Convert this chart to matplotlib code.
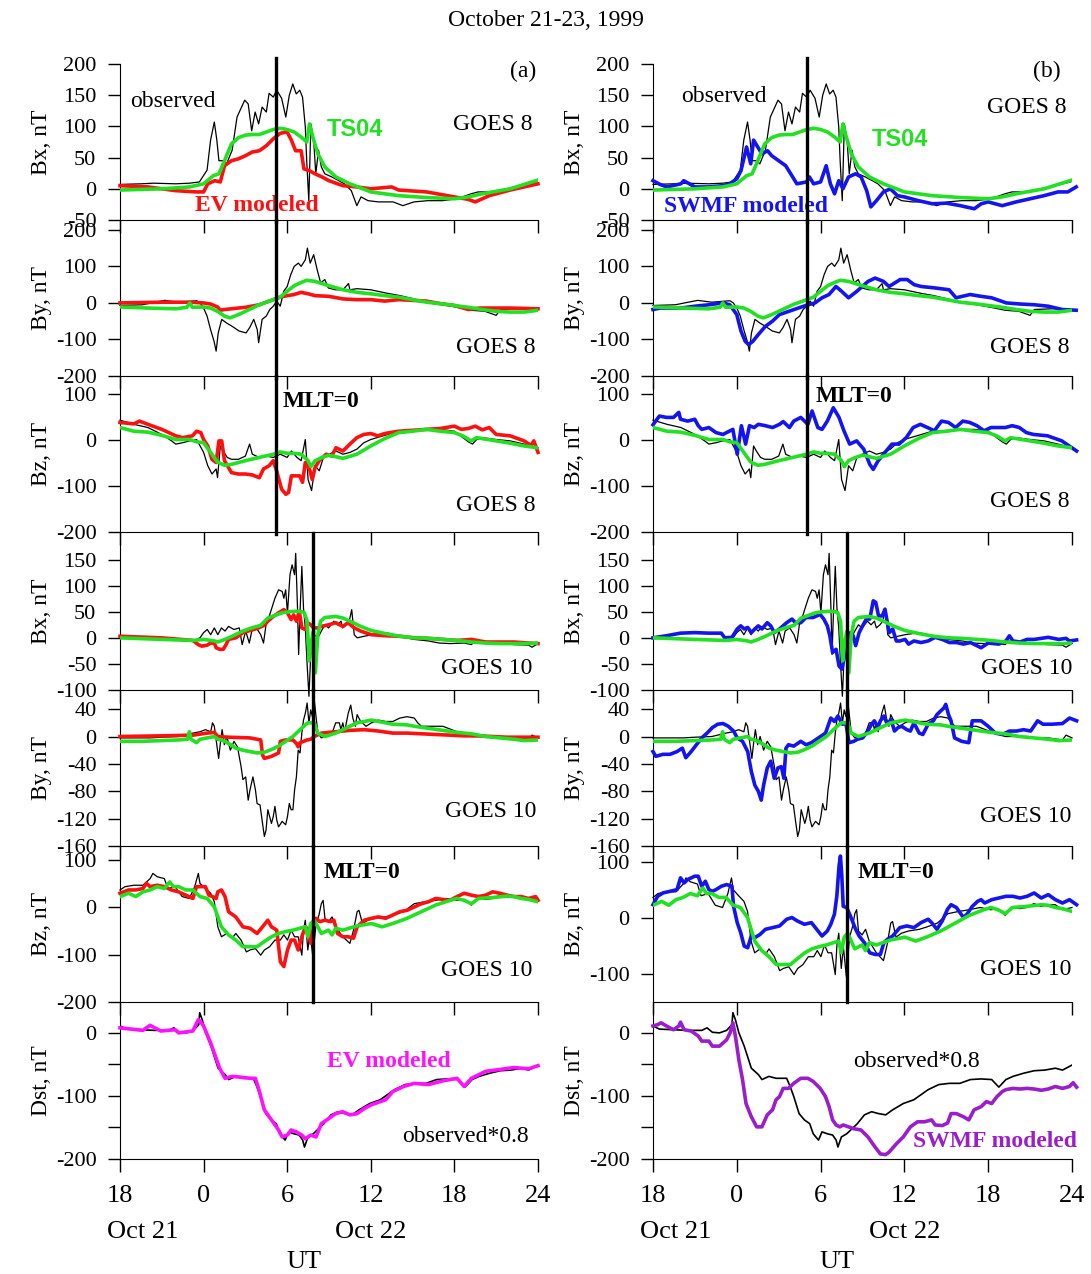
import numpy as np
import matplotlib
matplotlib.use('Agg')
import matplotlib.pyplot as plt

plt.rcParams['font.family'] = 'Liberation Serif'
plt.rcParams['axes.unicode_minus'] = False

# time in hours from 00 UT Oct 22 (-6 = 18 UT Oct 21, 24 = 00 UT Oct 23)
hour_ticks = [-6, 0, 6, 12, 18, 24]
hour_labels = ['18', '0', '6', '12', '18', '24']

# ---------------- GOES 8 Bx ----------------
bx8_obs_t = [-6, -4.5, -3.6, -2, -1, -0.3, 0.25, 0.5, 0.77, 0.95, 1.1, 1.4, 1.65, 2.05, 2.4, 2.95, 3.2, 3.45, 3.7, 3.95,
             4.2, 4.5, 4.7, 5.0, 5.25, 5.6, 5.9, 6.15, 6.4, 6.65, 6.9, 7.1, 7.3, 7.4, 7.55, 7.7, 7.9, 8.05, 8.25, 8.45,
             8.7, 9.2, 9.7, 10.1, 10.6, 11.0, 11.3, 11.8, 12.55, 13.6, 14.3, 15.1, 16.1, 17.15, 18.2, 19.2, 19.7, 20.7,
             21.8, 22.8, 23.9]
bx8_obs_v = [7, 8, 9, 8, 9, 11, 30, 78, 107, 78, 45, 45, 40, 62, 115, 142, 136, 93, 123, 104,
             131, 123, 153, 147, 158, 145, 115, 150, 168, 152, 158, 147, 99, 45, -19, 104, 78, 24, 62, 35,
             24, 19, 13, 8, -3, -27, -13, -19, -21, -21, -27, -21, -19, -19, -16, -8, -5, -5,
             0, 5, 11]
bx8_ts_t = [-6, -3, -1, 0, 0.7, 1.1, 1.5, 2, 2.5, 3, 3.5, 4, 4.5, 5, 5.5, 6, 6.5, 7, 7.4, 7.6,
            7.8, 8.2, 8.7, 9.5, 10.5, 12, 14, 16, 18, 19, 20, 22, 24]
bx8_ts_v = [-2, 0, 3, 8, 21, 24, 45, 72, 82, 86, 87, 87, 91, 95, 97, 95, 91, 83, 75, 104,
            86, 56, 35, 19, 8, -5, -11, -14, -16, -13, -8, 0, 14]
bx8_ev_t = [-6, -4, -2, -0.5, 0, 0.3, 0.8, 1.2, 1.5, 2, 2.5, 3, 3.5, 4, 4.5, 5, 5.5, 6, 6.3, 6.6,
            7, 7.2, 7.6, 8, 8.5, 9, 10, 11, 12, 13.5, 14, 16, 18, 19, 19.5, 20.5, 22, 24]
bx8_ev_v = [5, 3, -3, -5, -5, 8, 13, 11, 37, 45, 48, 53, 59, 61, 69, 80, 89, 91, 78, 61,
            61, 32, 29, 24, 19, 13, 5, 3, 0, 3, -2, -5, -13, -17, -21, -11, -2, 8]
bx8_sw_t = [-6, -5.5, -5, -4, -3.8, -3, -2, -1, -0.5, 0, 0.3, 0.7, 1.0, 1.2, 1.5, 1.8, 2.2, 2.5, 3.0, 3.5,
            4, 4.3, 5, 5.2, 5.5, 6, 6.4, 6.7, 7, 7.3, 7.6, 8, 8.5, 8.9, 9.3, 9.6, 10, 10.5, 11, 11.5,
            12, 13, 14, 15, 16, 17, 17.5, 18, 19, 20, 21, 22, 23, 23.7, 24.3]
bx8_sw_v = [13, 7, 3, 8, 13, 3, 3, 5, 8, 16, 29, 67, 40, 78, 67, 56, 61, 53, 45, 37,
            19, 8, 11, 19, 8, 11, 37, 8, -8, 13, 0, 19, 24, 19, -3, -29, -19, -5, 0, -11,
            -13, -19, -24, -23, -27, -32, -24, -21, -27, -21, -16, -11, -5, -5, 3]

# ---------------- GOES 8 By ----------------
by8_obs_t = [-6, -4.4, -2.8, -1.8, -0.5, -0.25, 0, 0.25, 0.5, 0.75, 0.9, 1.05, 1.3, 1.65, 2.05, 2.55, 3.05, 3.3, 3.6, 3.85,
             3.95, 4.2, 4.5, 4.75, 5.0, 5.25, 5.5, 5.75, 6.0, 6.25, 6.5, 6.8, 7.0, 7.3, 7.45, 7.65, 7.9, 8.15, 8.4, 8.7,
             8.95, 9.45, 10.0, 10.4, 10.5, 11.0, 12, 13.1, 14.1, 15.1, 16.1, 17.2, 18.2, 19.2, 20.2, 21.0, 21.3, 22.6, 23.9]
by8_obs_v = [-7, -5, 7, 2, 6, 0, -14, -36, -73, -105, -132, -82, -45, -55, -64, -77, -82, -68, -45, -73,
             -109, -45, -36, -18, -9, 5, -9, 32, 45, 77, 100, 109, 100, 118, 150, 109, 132, 91, 55, 64,
             41, 36, 36, 53, 36, 39, 36, 27, 20, 11, 0, -5, -12, -20, -23, -34, -18, -16, -16]
by8_ts_t = [-6, -4, -2, -1.2, -1.0, -0.8, 0, 0.5, 1, 1.5, 1.9, 2.5, 3, 3.5, 4, 5, 5.5, 6, 6.5, 7,
            7.4, 8, 9, 10, 11, 12, 13, 14, 15, 16, 17, 18, 19, 20, 21, 22, 23, 24]
by8_ts_v = [-11, -14, -16, -12, 0, -12, -11, -14, -23, -36, -41, -32, -23, -14, -5, 9, 16, 32, 47, 56,
            62, 59, 47, 36, 29, 25, 20, 16, 9, 2, -2, -7, -12, -18, -23, -25, -25, -20]
by8_ev_t = [-6, -3, -1, 0, 0.5, 1, 1.2, 1.5, 2, 3, 4, 5, 5.5, 6, 6.5, 7, 7.5, 8, 9, 10,
            11, 12, 13, 14, 15, 16, 17, 18, 19, 19.8, 20.5, 22, 24]
by8_ev_v = [0, 2, 2, 0, -3, -11, -20, -18, -16, -12, -5, 9, 16, 20, 23, 29, 25, 20, 18, 11,
            9, 9, 5, 9, 7, 5, -2, -7, -18, -14, -14, -14, -16]
by8_sw_t = [-6, -5.5, -4, -3, -2, -1, -0.5, 0, 0.3, 0.6, 0.85, 1.15, 1.55, 2.05, 2.55, 3.05, 4.1, 5.1, 5.6, 6.1,
            6.6, 7.1, 7.5, 8.0, 8.6, 9.4, 9.9, 10.5, 10.9, 11.7, 12.2, 12.7, 13.2, 14.2, 15.2, 15.7, 16.7, 17.5, 18.25, 19.3,
            20.3, 21.3, 22.3, 23.3, 24.3]
by8_sw_v = [-18, -14, -14, -9, -5, 0, -5, -32, -77, -105, -114, -105, -86, -64, -50, -32, -18, -5, 0, 14,
            23, 45, 32, 14, 32, 59, 68, 59, 45, 64, 64, 50, 45, 41, 36, 14, 23, 18, 14, 0,
            -3, -5, -9, -18, -20]

# ---------------- GOES 8 Bz ----------------
bz8_obs_t = [-6, -5, -4, -3, -2.3, -2, -1.5, -1, -0.5, 0, 0.3, 0.6, 0.9, 1.0, 1.2, 1.4, 1.7, 2, 2.5, 3,
             3.3, 3.5, 4, 4.5, 5, 5.5, 6, 6.3, 6.7, 7, 7.3, 7.5, 7.75, 8, 8.3, 8.6, 9, 9.5, 10, 10.5,
             11, 11.5, 12, 13, 14, 15, 16, 17, 18, 19, 19.3, 19.6, 20, 21, 22, 23, 24]
bz8_obs_v = [43, 34, 27, 12, -2, -9, -6, -2, 1, -27, -56, -74, -63, -82, -13, -24, -38, -42, -42, -35,
             -9, -31, -38, -35, -38, -31, -38, -24, -38, -45, 1, -86, -110, -56, -67, -38, -31, -24, -31, -27,
             -20, -6, 1, 10, 19, 19, 23, 23, 19, -4, -9, 1, 5, 1, -2, -9, -17]
bz8_ts_t = [-6, -5, -4, -3, -2, -1, -0.5, 0, 0.5, 1.0, 1.5, 2, 3, 4, 5, 5.5, 6, 6.5, 7, 7.5,
            7.7, 8, 8.5, 9, 10, 11, 12, 13, 14, 15, 16, 17, 18, 18.6, 19.2, 19.6, 20, 21, 22, 23, 24]
bz8_ts_v = [27, 19, 17, 10, 1, 1, -4, -6, -27, -48, -55, -53, -45, -38, -31, -26, -29, -29, -31, -45,
            -58, -45, -38, -33, -40, -31, -13, 3, 16, 19, 23, 19, 16, 9, -2, 5, 3, -2, -7, -13, -17]
bz8_ev_t = [-6, -5, -4.6, -4, -3, -2, -1.5, -0.8, -0.5, -0.2, 0, 0.3, 0.6, 0.9, 1.1, 1.3, 1.5, 2, 2.5, 3,
            3.5, 4, 4.3, 4.7, 5.0, 5.2, 5.6, 5.9, 6.1, 6.3, 6.6, 6.9, 7.1, 7.3, 7.6, 7.8, 8.0, 8.3, 8.8, 9.2,
            9.5, 10, 10.5, 11, 11.5, 12, 12.5, 13, 14, 15, 16, 17, 18, 18.5, 19, 19.5, 20, 20.5, 21, 22,
            23, 23.5, 23.7, 24]
bz8_ev_v = [38, 35, 41, 34, 23, 9, 5, 9, 19, 16, 1, -13, -42, -49, -2, -2, -45, -71, -74, -74,
            -76, -82, -63, -56, -45, -63, -107, -118, -114, -78, -78, -78, -92, -49, -63, -86, -60, -45, -31, -35,
            -17, -24, -9, 5, 12, 14, 9, 14, 19, 21, 23, 25, 30, 23, 25, 30, 22, 27, 12, 9,
            -2, -12, -2, -27]
bz8_sw_t = [-6, -5.54, -5.04, -4.53, -4.15, -4.03, -3.52, -3.01, -2.76, -2.51, -2.0, -1.49, -0.99, -0.48, -0.28, 0.03,
            0.33, 0.63, 0.91, 1.24, 1.54, 2.05, 2.56, 3.06, 3.32, 3.77, 4.08, 4.58, 5.09, 5.39, 5.8, 6.1,
            6.48, 6.91, 7.32, 7.67, 8.08, 8.58, 9.09, 9.52, 9.77, 10.1, 10.61, 11.11, 11.62, 12.13, 12.63, 13.14,
            13.65, 14.15, 14.66, 15.16, 15.67, 16.18, 16.68, 17.19, 17.7, 18.2, 19.22, 19.72, 20.23, 20.73, 21.24, 22.25,
            23.27, 24.33]
bz8_sw_v = [33, 52, 49, 49, 60, 45, 41, 45, 31, 23, 27, 16, 12, 20, 23, -31,
            31, -9, 31, 27, 34, 31, 27, 34, 40, 27, 41, 49, 34, 63, 27, 23,
            41, 70, 49, 20, -9, -2, -20, -53, -64, -46, -27, -9, -9, 5, 27, 34,
            27, 20, 41, 38, 27, 41, 38, 31, 20, 27, 27, 31, 27, 16, 12, 9,
            -2, -24]

# ---------------- GOES 10 Bx ----------------
bx10_obs_t = [-6.0, -3.0, -0.77, -0.26, 0, 0.26, 0.51, 0.77, 1.02, 1.28, 1.54, 1.79, 2.18, 2.56, 2.77, 3.02, 3.28, 3.46,
              3.79, 4.1, 4.3, 4.48, 4.74, 5.12, 5.38, 5.64, 5.76, 5.89, 6.02, 6.2, 6.35, 6.53, 6.61, 6.74, 6.82, 6.92,
              7.05, 7.17, 7.3, 7.43, 7.56, 7.69, 7.81, 7.94, 8.2, 8.45, 8.71, 8.97, 9.35, 9.61, 9.86, 9.99, 10.25, 10.45,
              10.63, 10.81, 11.02, 11.53, 12.04, 13.07, 14.09, 15.12, 16.14, 16.91, 17.68, 18.7, 19.22, 19.47, 20.24,
              21.27, 22.29, 23.32, 23.57, 24.0]
bx10_obs_v = [0, -3, -6, 0, 10, 16, 6, 19, 6, 19, 13, 22, 16, 19, -13, 13, -10, 13,
              19, 6, -10, 25, 44, 76, 92, 89, 76, 92, 48, 121, 140, 121, 162, 57, -32, 48,
              137, 57, 19, -51, -112, -32, -19, 6, 0, 13, 25, 19, 32, 25, 32, 19, 25, 32,
              54, 6, 0, 3, 6, 10, 3, -3, -6, -10, -11, -10, -13, -6, -11,
              -11, -13, -14, -18, -11]
bx10_ts_t = [-6.0, -3.0, -0.77, 0, 0.77, 1.02, 1.54, 2.05, 2.82, 3.33, 4.1, 4.61, 5.12, 5.64, 6.15, 6.66, 7.05, 7.23,
             7.43, 7.58, 7.74, 7.89, 8.02, 8.2, 8.4, 8.71, 9.48, 9.99, 10.5, 11.27, 12.04, 13.07, 14.09, 15.12, 16.14,
             17.17, 18.19, 19.22, 20.24, 21.27, 22.29, 23.32, 24.0]
bx10_ts_v = [0, -3, -5, -3, -6, -8, -3, 3, 13, 18, 24, 38, 43, 48, 50, 51, 50, 48,
             32, -44, -6, 13, -67, 6, 32, 39, 41, 38, 32, 22, 14, 8, 3, 0, -1,
             -3, -5, -8, -10, -11, -11, -11, -10]
bx10_ev_t = [-6, -3, -0.77, -0.38, -0.13, 0.26, 0.51, 0.77, 0.9, 1.15, 1.41, 1.59, 1.79, 2.31, 2.82, 3.33, 3.84, 4.36,
             4.61, 5.0, 5.38, 5.76, 6.02, 6.28, 6.46, 6.66, 6.87, 7.05, 7.3, 7.48, 7.69, 7.89, 8.2, 8.45, 8.97, 9.48,
             9.99, 10.38, 10.76, 11.27, 12.04, 13.07, 14.09, 15.12, 16.14, 17.17, 18.19, 19.22, 20.24, 21.27, 22.29,
             23.32, 24]
bx10_ev_v = [3, 0, -5, -13, -16, -14, -10, -10, -19, -22, -22, -14, -3, 0, 10, 14, 18, 24,
             32, 41, 48, 54, 48, 35, 44, 32, 51, 19, 16, 29, 25, 19, 19, 22, 25, 29,
             22, 29, 20, 13, 6, 4, 3, 0, -1, -3, -5, -3, -8, -8, -8,
             -10, -11]
bx10_sw_t = [-6, -5.04, -4.03, -3.01, -2.0, -1.11, -0.86, -0.35, 0.03, 0.28, 0.53, 0.78, 1.04, 1.29, 1.54, 1.8, 2.18,
             2.43, 2.68, 3.06, 3.57, 3.95, 4.2, 4.58, 4.96, 5.47, 5.97, 6.23, 6.48, 6.66, 6.86, 7.11, 7.32, 7.52, 7.67,
             7.87, 8.13, 8.33, 8.51, 8.76, 9.01, 9.27, 9.52, 9.77, 9.95, 10.15, 10.41, 10.61, 10.91, 11.16, 11.42, 11.67,
             12.05, 12.3, 12.68, 13.19, 13.7, 14.2, 14.71, 15.22, 15.72, 16.23, 16.73, 17.49, 18.0, 18.76, 19.27, 19.52,
             19.77, 20.28, 20.78, 21.29, 22.3, 23.06, 23.57, 23.82, 24.33]
bx10_sw_v = [0, 4, 9, 10, 9, 9, 0, 1, 17, 23, 17, 20, 10, 17, 23, 17, 29,
             23, 10, 17, 29, 36, 29, 29, 39, 39, 45, 36, 23, 4, -28, -22, -54, -60, -41,
             -9, 10, 4, -15, 10, 23, 36, 36, 71, 68, 42, 42, 55, 10, 17, -6, -6,
             -3, -12, -6, -9, -6, 1, -3, -9, -9, -12, -9, -19, -10, -12, -6, 4,
             -6, -8, -3, -3, 1, -3, -1, -6, -4]

# ---------------- GOES 10 By ----------------
by10_obs_t = [-6, -3.84, -3.0, -1.79, -0.77, -0.26, 0.13, 0.51, 0.64, 0.77, 0.9, 1.08, 1.23, 1.33, 1.49, 1.67, 1.92,
              2.18, 2.43, 2.69, 2.82, 3.02, 3.2, 3.33, 3.54, 3.72, 3.84, 4.05, 4.23, 4.36, 4.48, 4.61, 4.74, 4.87, 5.0,
              5.12, 5.25, 5.38, 5.64, 5.89, 6.02, 6.15, 6.28, 6.41, 6.53, 6.66, 6.79, 6.92, 7.05, 7.17, 7.3, 7.43, 7.56,
              7.69, 7.81, 7.94, 8.07, 8.2, 8.45, 8.71, 8.97, 9.22, 9.48, 9.74, 9.86, 9.99, 10.12, 10.38, 10.56, 10.71,
              10.89, 11.02, 11.27, 11.66, 12.04, 12.55, 13.07, 13.58, 14.09, 14.6, 15.12, 15.37, 15.63, 16.14, 17.17,
              18.19, 19.22, 20.24, 21.27, 22.29, 23.32, 23.57, 24.0]
by10_obs_v = [-2, -2, -1, 0, 5, 7, 10, 7, 20, 15, -5, -32, -5, 10, -12, 0, -20,
              -7, -15, -44, -63, -59, -93, -78, -59, -78, -98, -100, -127, -146, -137, -107, -117, -127, -117,
              -102, -122, -132, -124, -129, -117, -98, -107, -107, -78, -59, -20, -24, 5, 24, 34, 49, 20,
              39, 29, 54, 29, 5, -2, 0, 2, 5, 20, 20, 10, 20, 7, 34, 46, 27,
              15, 32, 22, 15, 20, 24, 22, 22, 27, 29, 27, 20, 15, 15, 15,
              7, 0, 0, -2, -2, -5, 2, -2]
by10_ts_t = [-6, -4.36, -3.07, -1.79, -1.15, -1.02, -0.9, -0.51, -0.26, 0.26, 0.77, 1.02, 1.28, 1.79, 2.31, 2.82,
             3.33, 3.84, 4.36, 4.87, 5.38, 5.89, 6.41, 6.92, 7.3, 7.48, 7.69, 7.94, 8.2, 8.71, 9.48, 9.99, 10.5, 11.02,
             12.04, 12.55, 13.58, 14.6, 15.12, 16.14, 17.17, 18.19, 19.22, 20.24, 21.27, 22.29, 23.06, 24.0]
by10_ts_v = [-7, -7, -6, -5, -4, 7, -4, -9, -4, -2, 0, -4, -5, -10, -17, -20,
             -22, -24, -23, -19, -14, -7, 0, 10, 17, 20, 20, 20, 5, 0, 5, 10, 15, 20,
             24, 22, 18, 17, 15, 12, 9, 6, 4, 0, -2, -4, -6, -5]
by10_ev_t = [-6, -3.07, -0.77, 0.26, 0.77, 1.02, 1.79, 3.33, 4.1, 4.23, 4.36, 4.87, 5.38, 5.51, 5.89, 6.41, 6.66,
             6.79, 6.92, 7.43, 7.69, 7.94, 8.45, 9.48, 10.5, 11.53, 12.55, 13.58, 14.6, 15.63, 16.65, 17.68, 18.7,
             19.73, 20.75, 21.78, 22.8, 24.0]
by10_ev_v = [0, 1, 2, 5, 6, 0, -1, -2, -5, -27, -32, -29, -24, -7, -5, -5, -10,
             -15, -9, -5, -4, 0, 5, 7, 9, 10, 8, 5, 5, 4, 3, 2, 1,
             1, 0, -1, -1, -1]
by10_sw_t = [-6, -5.8, -5.29, -4.78, -4.28, -3.9, -3.65, -3.27, -2.89, -2.51, -2.13, -1.75, -1.37, -0.99, -0.61, -0.23,
             0.03, 0.41, 0.78, 1.04, 1.29, 1.54, 1.75, 1.92, 2.18, 2.43, 2.68, 2.94, 3.19, 3.37, 3.52, 3.7, 4.08, 4.58,
             4.96, 5.34, 5.85, 6.35, 6.73, 6.99, 7.24, 7.57, 7.82, 8.03, 8.38, 8.63, 9.01, 9.39, 9.65, 9.85, 10.1, 10.28,
             10.53, 10.78, 11.04, 11.29, 11.54, 11.8, 12.18, 12.43, 12.68, 13.06, 13.32, 13.7, 14.08, 14.33, 14.58,
             14.84, 14.96, 15.16, 15.34, 15.59, 16.1, 16.61, 16.86, 17.49, 18.0, 18.51, 19.01, 19.52, 20.03, 20.53,
             21.04, 21.54, 21.92, 22.56, 23.32, 23.82, 24.08, 24.33]
by10_sw_v = [-22, -29, -26, -26, -22, -17, -31, -22, -12, -2, 5, 13, 18, 19, 15, 8,
             -2, -7, -22, -51, -71, -80, -93, -71, -46, -36, -61, -46, -44, -61, -17, -12, -14, -7,
             -12, -9, -2, 5, 27, 22, 30, 18, 19, -9, -7, -4, -2, 8, 18, 23, 13, 23,
             30, 18, 25, 8, 13, 15, 10, 8, 20, 5, 3, 18, 23, 32, 37,
             42, 47, 32, 23, -2, -7, -9, 23, 23, 15, 5, 3, 8, 8, 10,
             8, 23, 18, 18, 19, 27, 25, 23]

# ---------------- GOES 10 Bz ----------------
bz10_obs_t = [-6, -5.64, -5.0, -4.36, -3.84, -3.64, -3.33, -2.82, -2.56, -2.05, -1.54, -1.02, -0.64, -0.38, -0.26,
              0.13, 0.51, 0.77, 1.02, 1.28, 1.67, 2.05, 2.31, 2.69, 3.07, 3.33, 3.72, 4.1, 4.36, 4.74, 5.12, 5.51,
              5.76, 6.02, 6.28, 6.53, 6.79, 7.05, 7.17, 7.3, 7.48, 7.63, 7.84, 8.07, 8.28, 8.45, 8.58, 8.71, 8.97,
              9.22, 9.48, 9.99, 10.5, 10.76, 11.02, 11.15, 11.4, 11.79, 12.3, 13.07, 13.58, 14.35, 15.12, 15.89,
              16.65, 17.42, 18.19, 18.7, 19.22, 19.73, 20.24, 20.75, 21.27, 21.78, 22.29, 22.8, 23.32, 24]
bz10_obs_v = [37, 44, 47, 47, 61, 72, 65, 61, 40, 44, 23, 19, 44, 72, 51,
              40, 30, 12, -41, -62, -55, -65, -55, -69, -94, -90, -87, -101, -90, -83, -69, -69,
              -58, -69, -48, -62, -62, -101, -48, -27, -90, -51, -104, -34, -16, 8, 15, -23, -30,
              -20, -41, -62, -76, -48, -9, -6, -34, -27, -23, -20, -16, -9, 8, 12,
              15, 19, 15, 17, 5, 19, 17, 19, 26, 21, 24, 24, 15, 19]
bz10_ts_t = [-6, -5.38, -4.87, -4.36, -3.84, -3.33, -2.82, -2.43, -2.18, -1.79, -1.28, -0.77, -0.26, 0.26, 0.77,
             1.28, 1.79, 2.31, 2.82, 3.33, 3.84, 4.36, 4.87, 5.38, 5.89, 6.41, 6.92, 7.3, 7.48, 7.69, 7.94, 8.45,
             8.97, 9.22, 9.48, 9.99, 11.02, 12.04, 12.81, 13.58, 14.6, 15.63, 16.65, 17.68, 18.19, 18.7, 19.22,
             19.73, 20.75, 21.78, 22.29, 22.8, 23.32, 24.0]
bz10_ts_v = [23, 30, 23, 33, 37, 44, 40, 54, 44, 44, 37, 37, 23, 19, 1,
             -41, -58, -69, -83, -83, -83, -72, -62, -55, -51, -48, -44, -41, -62, -34, -27, -55,
             -48, -58, -44, -48, -39, -34, -41, -34, -23, -9, 5, 15, 19, 15, 8,
             19, 21, 24, 23, 19, 17, 12]
bz10_ev_t = [-6, -5.38, -4.87, -4.36, -4.1, -3.84, -3.33, -2.82, -2.31, -1.79, -1.28, -0.77, -0.51, -0.26, 0.13,
             0.38, 0.64, 0.9, 1.02, 1.28, 1.54, 1.79, 2.31, 2.82, 3.33, 3.84, 4.23, 4.61, 4.87, 5.25, 5.51, 5.76,
             6.02, 6.28, 6.53, 6.79, 7.05, 7.3, 7.56, 7.69, 7.89, 8.07, 8.33, 8.71, 9.1, 9.35, 9.61, 9.99, 10.38,
             10.76, 11.02, 11.53, 12.04, 12.55, 13.07, 13.58, 14.09, 14.6, 15.12, 15.63, 16.14, 16.65, 17.17, 17.68,
             18.19, 18.7, 19.22, 19.73, 20.24, 20.75, 21.27, 21.78, 22.29, 22.8, 23.32, 23.83, 24.0]
bz10_ev_v = [30, 37, 37, 40, 51, 44, 47, 44, 37, 33, 26, 19, 44, 44, 44,
             26, 23, 19, 33, 37, 23, -9, -20, -41, -44, -55, -41, -27, -41, -48, -115, -125,
             -90, -69, -69, -90, -62, -41, -48, -76, -41, -23, -30, -27, -30, -27, -55, -62, -62,
             -65, -41, -27, -23, -20, -23, -16, -9, -6, 1, 8, 12, 19, 17, 15,
             23, 30, 26, 23, 26, 33, 30, 26, 23, 23, 19, 23, 15]
bz10_sw_t = [-6, -5.67, -5.29, -4.78, -4.28, -4.03, -3.77, -3.52, -3.01, -2.76, -2.51, -2.25, -2.0, -1.75, -1.49,
             -1.11, -0.73, -0.35, -0.23, 0.03, 0.28, 0.53, 0.78, 1.04, 1.29, 1.67, 2.05, 2.56, 3.06, 3.57, 3.95, 4.33,
             4.84, 5.34, 5.72, 6.1, 6.48, 6.73, 6.99, 7.16, 7.32, 7.42, 7.52, 7.62, 7.87, 8.13, 8.51, 8.76, 9.14,
             9.52, 9.9, 10.28, 10.53, 10.78, 11.16, 11.67, 12.18, 12.68, 13.19, 13.7, 13.95, 14.33, 14.71, 15.09,
             15.34, 15.72, 16.23, 16.48, 16.86, 17.24, 17.49, 17.75, 18.25, 18.76, 19.27, 19.77, 20.28, 20.78,
             21.29, 21.8, 22.3, 22.81, 23.32, 23.82, 24.33]
bz10_sw_v = [24, 39, 45, 48, 51, 72, 63, 69, 75, 75, 57, 66, 51, 48, 51,
             57, 60, 57, 21, -8, -26, -50, -53, -32, -35, -29, -20, -17, -14, -2, 1, -5,
             -11, -8, -20, -32, -23, -11, 7, 39, 93, 111, 75, 21, 19, 4, -20, -32, -44,
             -62, -65, -65, -44, -38, -32, -17, -14, -17, -8, -2, -8, -20, -5, 16,
             24, 19, 1, 7, 21, 30, 33, 27, 33, 36, 39, 39, 36, 39,
             45, 36, 42, 33, 27, 33, 24]

# ---------------- Dst ----------------
dst_obs_t = [-6, -5.54, -4.53, -3.52, -2.51, -2.13, -1.75, -1.24, -0.73, -0.35, -0.28, -0.1, 0.15, 0.53, 1.04, 1.54,
             1.8, 2.3, 2.81, 3.57, 3.82, 4.08, 4.46, 4.84, 5.22, 5.47, 5.85, 6.1, 6.48, 6.86, 7.11, 7.24, 7.49, 7.87,
             8.25, 8.63, 9.14, 9.65, 10.15, 10.66, 11.16, 11.92, 12.68, 13.19, 13.7, 14.46, 15.22, 15.97, 16.73,
             17.49, 18.25, 18.76, 19.27, 19.77, 20.53, 21.29, 22.05, 22.81, 23.32, 24]
dst_obs_v = [11, 6, 5, 4, 4, 8, 1, 0, 4, 13, 32, 21, 0, -21, -56, -66,
             -74, -69, -72, -72, -85, -101, -128, -138, -144, -160, -170, -157, -160, -162, -170, -181, -165, -160,
             -152, -144, -130, -125, -128, -130, -122, -112, -106, -98, -90, -82, -80, -80, -74,
             -73, -74, -86, -74, -69, -64, -60, -59, -56, -59, -51]
dst_ev_t = [-6, -4.36, -3.84, -3.07, -2.05, -1.79, -0.77, -0.38, -0.26, 0, 0.51, 1.15, 1.54, 2.05, 2.56, 3.33, 3.72,
            3.97, 4.36, 4.87, 5.38, 5.64, 6.02, 6.28, 6.66, 7.05, 7.3, 7.69, 8.07, 8.45, 8.97, 9.48, 9.99, 10.5, 11.02,
            11.53, 12.04, 13.07, 13.58, 14.35, 15.12, 16.14, 17.17, 18.19, 18.7, 19.22, 20.24, 21.27, 22.29, 23.32, 24]
dst_ev_v = [8, 4, 12, 3, 5, 0, 3, 21, 19, 11, -16, -56, -72, -69, -70, -72, -72,
            -90, -122, -138, -154, -165, -162, -154, -157, -162, -168, -162, -165, -144, -136, -128, -125, -130, -128,
            -120, -114, -106, -93, -85, -80, -82, -76, -72, -85, -72, -61, -58, -55, -57, -52]
dst_sw_t = [-6, -5.67, -5.42, -5.04, -4.53, -4.15, -4.03, -3.77, -3.27, -2.76, -2.51, -2.0, -1.75, -1.24, -0.73,
            -0.48, -0.28, -0.1, 0.15, 0.41, 0.66, 1.04, 1.42, 1.8, 2.18, 2.56, 2.81, 3.06, 3.32, 3.7, 4.08, 4.58,
            5.09, 5.47, 5.97, 6.35, 6.61, 6.86, 7.11, 7.37, 7.62, 8.0, 8.38, 8.89, 9.39, 9.9, 10.28, 10.66, 10.91,
            11.42, 11.92, 12.43, 12.94, 13.44, 13.95, 14.2, 14.71, 15.09, 15.34, 15.72, 16.23, 16.61, 16.99, 17.49,
            17.87, 18.25, 18.63, 19.01, 19.27, 19.77, 20.28, 20.78, 21.29, 21.8, 22.3, 22.81, 23.32, 23.82, 24.08, 24.33]
dst_sw_v = [11, 13, 16, 11, 5, 11, 17, 5, 3, -5, -13, -13, -21, -21, -11,
            0, 16, -5, -43, -74, -112, -133, -149, -149, -130, -122, -106, -101, -88, -88, -80, -72,
            -72, -77, -88, -101, -117, -138, -146, -149, -146, -149, -152, -154, -165, -181, -192, -193, -189,
            -176, -165, -149, -141, -141, -138, -146, -147, -143, -128, -128, -133, -138, -122, -117,
            -109, -112, -101, -93, -90, -88, -89, -88, -89, -91, -89, -85, -88, -85, -79, -86]

# MLT=0 crossing times (GOES 8, GOES 10) as drawn in each column
mlt0_goes8 = [5.17, 5.05]
mlt0_goes10 = [7.85, 7.92]

# ---------------- styles ----------------
C_OBS = 'black'
C_TS = '#22e022'
C_EV = '#ff1010'
C_SW = '#1414f0'
C_DST_EV = '#ff10ff'
C_DST_SW = '#9a1ecc'

W, H = 1091, 1274
fig = plt.figure(figsize=(W / 100, H / 100), dpi=100)

col_x = [(120, 538), (653, 1072)]
row_y = [(64, 220), (220, 376), (376, 532), (533, 690), (690, 846), (846, 1002), (1002, 1159)]


def box(x0, x1, y0, y1):
    return [x0 / W, 1 - y1 / H, (x1 - x0) / W, (y1 - y0) / H]


panels = [
    dict(lab='Bx, nT', obs=(bx8_obs_t, bx8_obs_v), ts=(bx8_ts_t, bx8_ts_v),
         mod=[(bx8_ev_t, bx8_ev_v), (bx8_sw_t, bx8_sw_v)],
         ylim=[(-50, 200), (-50, 200)], yt=[[-50, 0, 50, 100, 150, 200]] * 2),
    dict(lab='By, nT', obs=(by8_obs_t, by8_obs_v), ts=(by8_ts_t, by8_ts_v),
         mod=[(by8_ev_t, by8_ev_v), (by8_sw_t, by8_sw_v)],
         ylim=[(-200, 227), (-200, 227)], yt=[[-200, -100, 0, 100, 200]] * 2),
    dict(lab='Bz, nT', obs=(bz8_obs_t, bz8_obs_v), ts=(bz8_ts_t, bz8_ts_v),
         mod=[(bz8_ev_t, bz8_ev_v), (bz8_sw_t, bz8_sw_v)],
         ylim=[(-200, 139), (-200, 139)], yt=[[-200, -100, 0, 100]] * 2),
    dict(lab='Bx, nT', obs=(bx10_obs_t, bx10_obs_v), ts=(bx10_ts_t, bx10_ts_v),
         mod=[(bx10_ev_t, bx10_ev_v), (bx10_sw_t, bx10_sw_v)],
         ylim=[(-100, 201), (-100, 201)], yt=[[-100, -50, 0, 50, 100, 150]] * 2),
    dict(lab='By, nT', obs=(by10_obs_t, by10_obs_v), ts=(by10_ts_t, by10_ts_v),
         mod=[(by10_ev_t, by10_ev_v), (by10_sw_t, by10_sw_v)],
         ylim=[(-160, 68), (-160, 68)], yt=[[-160, -120, -80, -40, 0, 40]] * 2),
    dict(lab='Bz, nT', obs=(bz10_obs_t, bz10_obs_v), ts=(bz10_ts_t, bz10_ts_v),
         mod=[(bz10_ev_t, bz10_ev_v), (bz10_sw_t, bz10_sw_v)],
         ylim=[(-200, 130), (-150, 129)], yt=[[-200, -100, 0, 100], [-100, 0, 100]]),
    dict(lab='Dst, nT', obs=(dst_obs_t, dst_obs_v), ts=None,
         mod=[(dst_ev_t, dst_ev_v), (dst_sw_t, dst_sw_v)],
         ylim=[(-200, 49), (-200, 49)], yt=[[-200, -150, -100, -50, 0]] * 2),
]

goes_lbl = ['GOES 8', 'GOES 8', 'GOES 8', 'GOES 10', 'GOES 10', 'GOES 10']
goes_pos = [[(0.986, 0.609), (0.986, 0.718)],
            [(0.995, 0.18), (0.995, 0.18)],
            [(0.995, 0.173), (0.995, 0.194)],
            [(0.986, 0.14), (1.0, 0.14)],
            [(0.995, 0.22), (0.998, 0.188)],
            [(0.986, 0.2), (0.998, 0.21)]]

FS = 16
axes = [[None, None] for _ in range(7)]
for r, p in enumerate(panels):
    for c in range(2):
        x0, x1 = col_x[c]
        y0, y1 = row_y[r]
        ax = fig.add_axes(box(x0, x1, y0, y1))
        axes[r][c] = ax
        ax.patch.set_alpha(0)
        ax.set_xlim(-6, 24)
        ax.set_ylim(*p['ylim'][c])
        ax.spines['top'].set_visible(False)
        ax.spines['right'].set_visible(False)
        ax.set_xticks(hour_ticks)
        ax.set_yticks(p['yt'][c])
        if r == 6:
            ax.set_yticklabels(['-200', '', '-100', '', '0'])
        ax.tick_params(direction='out', length=9, width=1, labelsize=FS, pad=8)
        if r < 6:
            ax.tick_params(axis='x', labelbottom=False)
        else:
            ax.set_xticklabels(hour_labels)
            ax.tick_params(axis='x', labelsize=19, pad=10)
        ax.set_ylabel(p['lab'], fontsize=17)
        ax.yaxis.set_label_coords(-0.163, 0.5)

        ot, ov = p['obs']
        if r == 6:
            mt, mv = p['mod'][c]
            ax.plot(ot, ov, color=C_OBS, lw=1.2, zorder=2)
            ax.plot(mt, mv, color=[C_DST_EV, C_DST_SW][c], lw=2.6, zorder=3, clip_on=False)
        else:
            ax.plot(ot, ov, color=C_OBS, lw=0.9, zorder=2, clip_on=False)
            mt, mv = p['mod'][c]
            ax.plot(mt, mv, color=[C_EV, C_SW][c], lw=2.6, zorder=3, clip_on=False)
            tt, tv = p['ts']
            ax.plot(tt, tv, color=C_TS, lw=2.6, zorder=4)
            gx, gy = goes_pos[r][c]
            ax.text(gx, gy, goes_lbl[r], transform=ax.transAxes, ha='right', va='center', fontsize=17)

# MLT=0 vertical lines
for c in range(2):
    for r in range(3):
        top = 1.04 if r == 0 else 1.0
        axes[r][c].axvline(mlt0_goes8[c], ymin=-0.01, ymax=top, color='black', lw=2.4, zorder=5, clip_on=False)
    for r in range(3, 6):
        axes[r][c].axvline(mlt0_goes10[c], ymin=0, ymax=1, color='black', lw=2.4, zorder=5, clip_on=False)

# annotations
a = axes[0][0]
a.text(0.024, 0.758, 'observed', transform=a.transAxes, ha='left', va='center', fontsize=17)
a.text(0.995, 0.95, '(a)', transform=a.transAxes, ha='right', va='center', fontsize=17)
a.text(0.495, 0.581, 'TS04', transform=a.transAxes, ha='left', va='center', fontsize=17,
       color=C_TS, fontweight='bold', family='Liberation Sans')
a.text(0.179, 0.096, 'EV modeled', transform=a.transAxes, ha='left', va='center', fontsize=17,
       color=C_EV, fontweight='bold')
a = axes[0][1]
a.text(0.067, 0.79, 'observed', transform=a.transAxes, ha='left', va='center', fontsize=17)
a.text(0.974, 0.95, '(b)', transform=a.transAxes, ha='right', va='center', fontsize=17)
a.text(0.523, 0.513, 'TS04', transform=a.transAxes, ha='left', va='center', fontsize=17,
       color=C_TS, fontweight='bold', family='Liberation Sans')
a.text(0.026, 0.085, 'SWMF modeled', transform=a.transAxes, ha='left', va='center', fontsize=17,
       color=C_SW, fontweight='bold')

axes[2][0].text(0.388, 0.835, 'MLT=0', transform=axes[2][0].transAxes, ha='left', va='center',
                fontsize=17, fontweight='bold')
axes[2][1].text(0.389, 0.867, 'MLT=0', transform=axes[2][1].transAxes, ha='left', va='center',
                fontsize=17, fontweight='bold')
axes[5][0].text(0.486, 0.827, 'MLT=0', transform=axes[5][0].transAxes, ha='left', va='center',
                fontsize=17, fontweight='bold')
axes[5][1].text(0.489, 0.827, 'MLT=0', transform=axes[5][1].transAxes, ha='left', va='center',
                fontsize=17, fontweight='bold')

a = axes[6][0]
a.text(0.495, 0.62, 'EV modeled', transform=a.transAxes, ha='left', va='center', fontsize=17,
       color=C_DST_EV, fontweight='bold')
a.text(0.978, 0.142, 'observed*0.8', transform=a.transAxes, ha='right', va='center', fontsize=17)
a = axes[6][1]
a.text(0.477, 0.62, 'observed*0.8', transform=a.transAxes, ha='left', va='center', fontsize=17)
a.text(0.62, 0.11, 'SWMF modeled', transform=a.transAxes, ha='left', va='center', fontsize=17,
       color=C_DST_SW, fontweight='bold')

# date and UT labels under the bottom panels
for c in range(2):
    a = axes[6][c]
    a.text(-0.031, -0.465, 'Oct 21', transform=a.transAxes, ha='left', va='center', fontsize=19)
    a.text(0.6, -0.465, 'Oct 22', transform=a.transAxes, ha='center', va='center', fontsize=19)
    a.text(0.44, -0.655, 'UT', transform=a.transAxes, ha='center', va='center', fontsize=19)

fig.text(0.5, 1 - 20 / H, 'October 21-23, 1999', ha='center', va='center', fontsize=17)

fig.savefig('out.png', dpi=100)
